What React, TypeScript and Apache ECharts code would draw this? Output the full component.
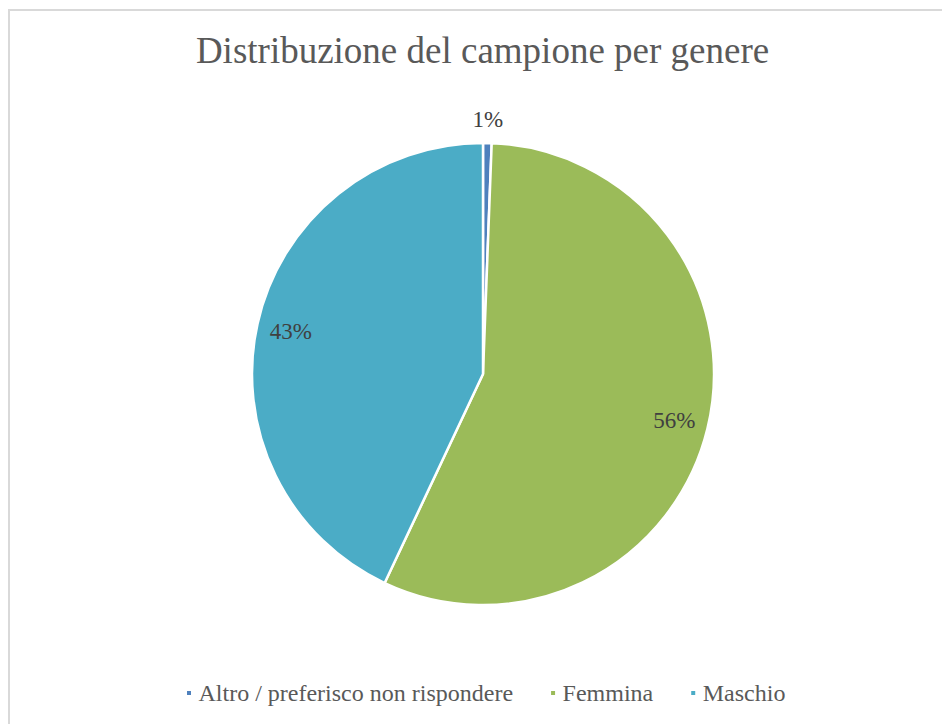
import React, { useEffect, useRef } from "react";
import * as echarts from "echarts";

const categories = ["Altro / preferisco non rispondere", "Femmina", "Maschio"];
const values = [0.6, 56.4, 43.0];
const colors = ["#4f81bd", "#9bbb59", "#4bacc6"];
const titleText = "Distribuzione del campione per genere";

const FONT = "Liberation Serif";

export default function App() {
  const ref = useRef<HTMLDivElement>(null);

  useEffect(() => {
    if (!ref.current) return;
    const chart = echarts.init(ref.current, null, { renderer: "svg" });
    const cx = 483;
    const cy = 374;
    const r = 231;

    const mainData = categories.map((name, i) => ({
      name,
      value: values[i],
      itemStyle: { color: colors[i] },
    }));

    const innerLabelData = categories.map((name, i) => ({
      name,
      value: values[i],
      label: { show: values[i] >= 5 },
    }));

    const outerLabelData = categories.map((name, i) => ({
      name,
      value: values[i],
      label: { show: values[i] < 5 },
    }));

    const labelCommon = {
      show: true,
      position: "inside" as const,
      formatter: (p: any) => Math.round(p.value) + "%",
      fontFamily: FONT,
      fontSize: 23,
      color: "#404040",
    };

    chart.setOption({
      animation: false,
      backgroundColor: "#ffffff",
      textStyle: { fontFamily: FONT },
      graphic: [
        {
          type: "rect",
          shape: { x: 9, y: 10, width: 1000, height: 800 },
          style: { fill: "none", stroke: "#d9d9d9", lineWidth: 2 },
          silent: true,
        },
        {
          type: "text",
          x: 482.5,
          y: 50,
          style: {
            text: titleText,
            fontFamily: FONT,
            fontSize: 37,
            fill: "#595959",
            align: "center",
            verticalAlign: "middle",
          },
        },
      ],
      legend: {
        data: categories,
        left: 180,
        top: 676,
        orient: "horizontal",
        icon: "path://M0,0h6v6h-6z",
        itemWidth: 9,
        itemHeight: 6,
        itemGap: 36,
        selectedMode: false,
        textStyle: {
          fontFamily: FONT,
          fontSize: 24,
          color: "#595959",
        },
      },
      series: [
        {
          type: "pie",
          center: [cx, cy],
          radius: [0, r],
          startAngle: 90,
          clockwise: true,
          avoidLabelOverlap: false,
          label: { show: false },
          labelLine: { show: false },
          itemStyle: { borderColor: "#ffffff", borderWidth: 2.5 },
          emphasis: { disabled: true },
          data: mainData,
        },
        {
          type: "pie",
          silent: true,
          center: [cx, cy],
          radius: [157, r],
          startAngle: 90,
          clockwise: true,
          avoidLabelOverlap: false,
          itemStyle: { color: "rgba(0,0,0,0)", borderWidth: 0 },
          label: labelCommon,
          labelLine: { show: false },
          emphasis: { disabled: true },
          data: innerLabelData,
        },
        {
          type: "pie",
          silent: true,
          center: [cx, cy],
          radius: [r + 8, r + 34],
          startAngle: 90,
          clockwise: true,
          avoidLabelOverlap: false,
          itemStyle: { color: "rgba(0,0,0,0)", borderWidth: 0 },
          label: labelCommon,
          labelLine: { show: false },
          emphasis: { disabled: true },
          data: outerLabelData,
        },
      ],
    });

    return () => chart.dispose();
  }, []);

  return (
    <div
      ref={ref}
      style={{ position: "fixed", left: 0, top: 0, width: 942, height: 724, background: "#fff" }}
    />
  );
}
